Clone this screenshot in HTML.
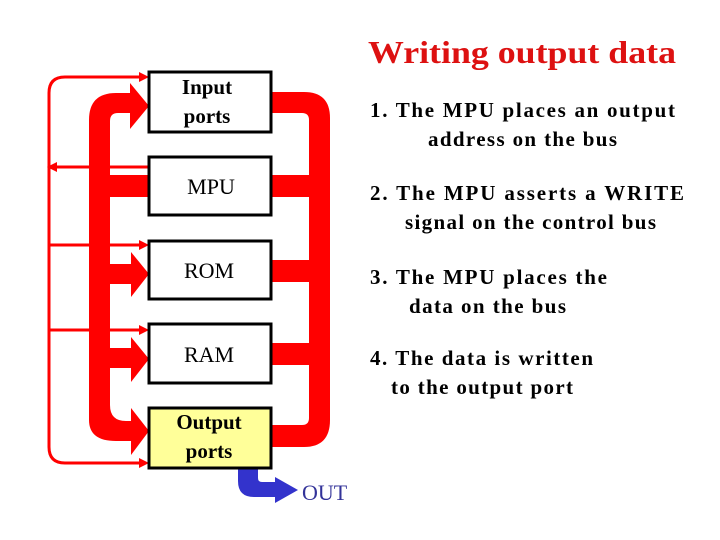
<!DOCTYPE html>
<html><head><style>html,body{margin:0;padding:0;background:#fff}svg{display:block}</style></head>
<body>
<svg width="720" height="540" viewBox="0 0 720 540" xmlns="http://www.w3.org/2000/svg">
<g fill="#ff0000" stroke="none">
  <!-- left thick bus -->
  <path d="M89,430 L89,120 Q89,93 116,93 L135,93 L135,113 L118,113 Q110,113 110,121 L110,405 Q110,421 126,421 L135,421 L135,441 L116,441 Q89,441 89,420 Z"/>
  <polygon points="130,83 149,106 130,129"/>
  <rect x="110" y="175" width="40" height="22"/>
  <rect x="110" y="264" width="25" height="20"/>
  <polygon points="131,252 149,274 131,297"/>
  <rect x="110" y="348" width="25" height="20"/>
  <polygon points="131,337 149,359 131,382"/>
  <polygon points="131,408 149,431 131,455"/>
  <!-- right thick bus -->
  <path d="M270,92 L304,92 Q330,92 330,118 L330,420 Q330,447 304,447 L270,447 L270,425 L302,425 Q309,425 309,418 L309,120 Q309,113 302,113 L270,113 Z"/>
  <rect x="270" y="175" width="40" height="22"/>
  <rect x="270" y="260" width="40" height="22"/>
  <rect x="270" y="343" width="40" height="22"/>
</g>
<g stroke="#ff0000" stroke-width="3" fill="none">
  <path d="M140,77 L65,77 Q49,77 49,93 L49,447 Q49,463 65,463 L140,463"/>
  <line x1="149" y1="167" x2="56" y2="167"/>
  <line x1="49" y1="245" x2="141" y2="245"/>
  <line x1="49" y1="330" x2="141" y2="330"/>
</g>
<g fill="#ff0000">
  <polygon points="149,77 139,72 139,82"/>
  <polygon points="47,167 57,162 57,172"/>
  <polygon points="149,245 139,240 139,250"/>
  <polygon points="149,330 139,325 139,335"/>
  <polygon points="149,463 139,458 139,468"/>
</g>
<!-- blue out arrow -->
<path d="M238,466 L258,466 L258,478 Q258,482 262,482 L277,482 L277,497 L254,497 Q238,497 238,481 Z" fill="#3333cc"/>
<polygon points="275,477 298,490 275,503" fill="#3333cc"/>
<!-- boxes -->
<g stroke="#000" stroke-width="3">
  <rect x="149" y="72" width="122" height="60" fill="#fff"/>
  <rect x="149" y="157" width="122" height="58" fill="#fff"/>
  <rect x="149" y="241" width="122" height="58" fill="#fff"/>
  <rect x="149" y="324" width="122" height="59" fill="#fff"/>
  <rect x="149" y="408" width="122" height="60" fill="#ffff99"/>
</g>
<g font-family="Liberation Serif, serif" font-size="22" fill="#000" text-anchor="middle">
  <text x="207" y="94" font-weight="bold" font-size="21">Input</text>
  <text x="207" y="123" font-weight="bold" font-size="21">ports</text>
  <text x="211" y="194">MPU</text>
  <text x="209" y="278">ROM</text>
  <text x="209" y="362">RAM</text>
  <text x="209" y="429" font-weight="bold" font-size="21">Output</text>
  <text x="209" y="458" font-weight="bold" font-size="21">ports</text>
</g>
<text x="302" y="500" font-family="Liberation Serif, serif" font-size="22" fill="#333399">OUT</text>
<text x="368" y="63" font-family="Liberation Serif, serif" font-weight="bold" font-size="32" fill="#dd1111" textLength="308" lengthAdjust="spacingAndGlyphs">Writing output data</text>
<g font-family="Liberation Serif, serif" font-weight="bold" font-size="21" fill="#000">
  <text x="370" y="117" textLength="305">1.  The MPU places an output</text>
  <text x="428" y="146" textLength="189">address on the bus</text>
  <text x="370" y="200" textLength="314">2.  The MPU asserts a WRITE</text>
  <text x="405" y="229" textLength="251">signal on the control bus</text>
  <text x="370" y="284" textLength="237">3.  The MPU places the</text>
  <text x="409" y="313" textLength="157">data on the bus</text>
  <text x="370" y="365" textLength="223">4.  The data is written</text>
  <text x="391" y="394" textLength="182">to the output port</text>
</g>
</svg>
</body></html>
